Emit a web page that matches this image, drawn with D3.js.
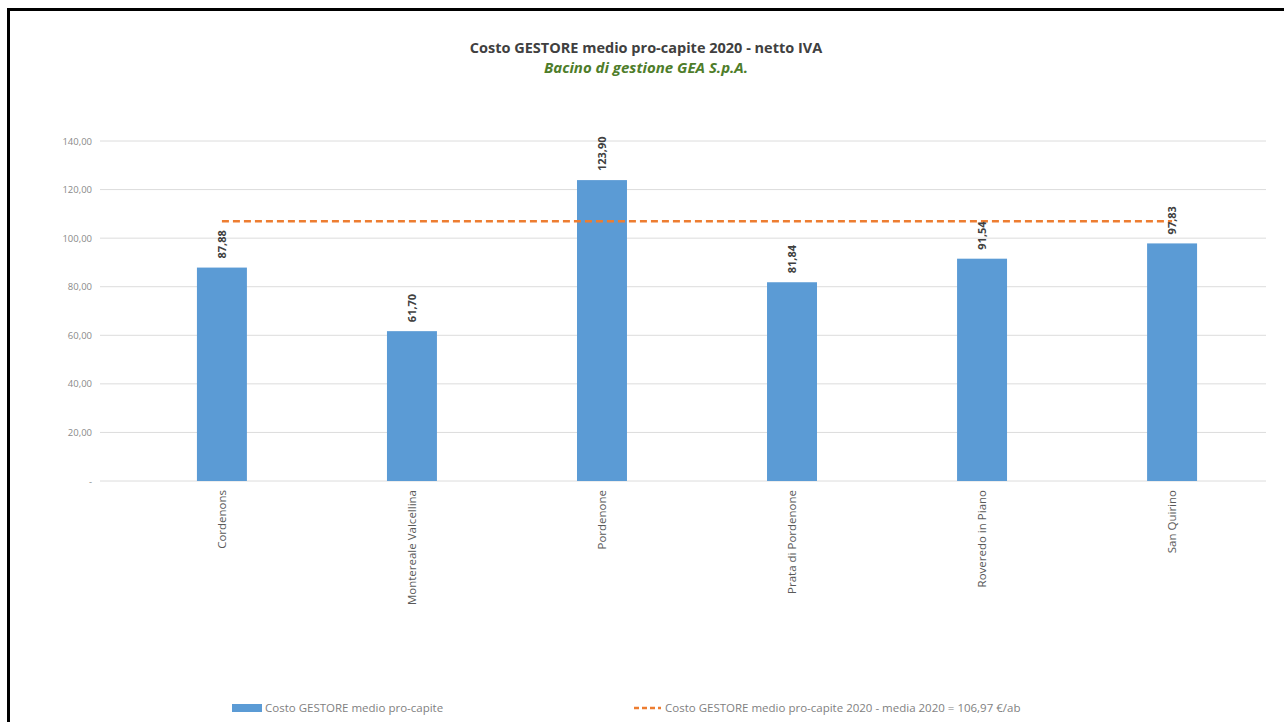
<!DOCTYPE html>
<html><head><meta charset="utf-8">
<script src="https://cdn.jsdelivr.net/npm/d3@7"></script>
<style>body{margin:0;background:#fff}svg{display:block}</style>
</head><body>
<svg id="c" width="1284" height="722"></svg>
<script>
const categories = ["Cordenons","Montereale Valcellina","Pordenone","Prata di Pordenone","Roveredo in Piano","San Quirino"];
const values = [87.88, 61.70, 123.90, 81.84, 91.54, 97.83];
const mediaValue = 106.97;
const yTicks = [0,20,40,60,80,100,120,140];
const title = "Costo GESTORE medio pro-capite 2020 - netto IVA";
const subtitle = "Bacino di gestione GEA S.p.A.";
const legendBar = "Costo GESTORE medio pro-capite";
const legendLine = "Costo GESTORE medio pro-capite 2020 - media 2020 = 106,97 €/ab";

const font = "'Open Sans', 'Liberation Sans', sans-serif";
const svg = d3.select("#c");
const fmt = v => v === 0 ? "-" : d3.format(".2f")(v).replace(".", ",");

svg.append("rect").attr("x",8.5).attr("y",9.5).attr("width",1300).attr("height",740)
  .attr("fill","none").attr("stroke","#000").attr("stroke-width",3);

const x = d3.scaleBand().domain(categories).range([127,1267]).paddingInner(0.737).paddingOuter(0.368);
const y = d3.scaleLinear().domain([0,140]).range([481,141]);

// gridlines
svg.append("g").selectAll("line").data(yTicks).join("line")
  .attr("x1",100).attr("x2",1266).attr("y1",d=>y(d)).attr("y2",d=>y(d))
  .attr("stroke","#dcdcdc").attr("stroke-width",1);

// y axis labels
const yAxis = d3.axisLeft(y).tickValues(yTicks).tickFormat(fmt).tickSize(0).tickPadding(0);
const ga = svg.append("g").attr("transform","translate(92,0)").call(yAxis);
ga.select(".domain").remove();
ga.selectAll("text").attr("font-family",font).attr("font-size",9.5).attr("fill","#8a8a8a");

// bars
svg.append("g").selectAll("rect").data(values).join("rect")
  .attr("x",(d,i)=>x(categories[i])).attr("width",x.bandwidth())
  .attr("y",d=>y(d)).attr("height",d=>y(0)-y(d))
  .attr("fill","#5b9bd5");

// average line
const line = d3.line().x(d=>x(d)+x.bandwidth()/2).y(()=>y(mediaValue));
svg.append("path").datum(categories).attr("d",line)
  .attr("fill","none").attr("stroke","#ed7d31").attr("stroke-width",2.5).attr("stroke-dasharray","7,4");

// value labels
svg.append("g").selectAll("text").data(values).join("text")
  .attr("transform",(d,i)=>`translate(${x(categories[i])+x.bandwidth()/2+4},${y(d)-9}) rotate(-90)`)
  .attr("text-anchor","start").attr("font-family",font).attr("font-size",11).attr("font-weight","bold")
  .attr("fill","#404040").text(d=>fmt(d));

// category labels
const xAxis = d3.axisBottom(x).tickSize(0).tickPadding(0);
const gx = svg.append("g").attr("transform","translate(0,490)").call(xAxis);
gx.select(".domain").remove();
gx.selectAll("text").attr("font-family",font).attr("font-size",11.5).attr("fill","#595959")
  .attr("transform","rotate(-90)").attr("text-anchor","end").attr("dy","0.35em").attr("x",0).attr("y",0);

// titles
svg.append("text").attr("x",646).attr("y",53).attr("text-anchor","middle")
  .attr("font-family",font).attr("font-size",14.5).attr("font-weight","bold").attr("fill","#404040").text(title);
svg.append("text").attr("x",646).attr("y",73).attr("text-anchor","middle")
  .attr("font-family",font).attr("font-size",15).attr("font-weight","bold").attr("font-style","italic").attr("fill","#4e7d2a").text(subtitle);

// legend
svg.append("rect").attr("x",232).attr("y",704).attr("width",30).attr("height",8).attr("fill","#5b9bd5");
svg.append("text").attr("x",265).attr("y",712).attr("font-family",font).attr("font-size",11.5).attr("fill","#7f7f7f").text(legendBar);
svg.append("line").attr("x1",634).attr("x2",661).attr("y1",708).attr("y2",708)
  .attr("stroke","#ed7d31").attr("stroke-width",2.5).attr("stroke-dasharray","5,3");
svg.append("text").attr("x",665).attr("y",712).attr("font-family",font).attr("font-size",11.5).attr("fill","#7f7f7f").text(legendLine);
</script>
</body></html>
